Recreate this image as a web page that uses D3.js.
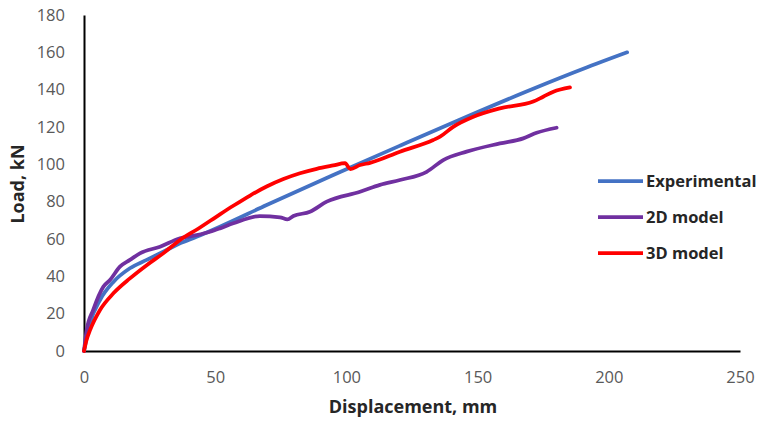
<!DOCTYPE html>
<html>
<head>
<meta charset="utf-8">
<script src="https://cdn.jsdelivr.net/npm/d3@7"></script>
<style>
  html, body { margin: 0; padding: 0; background: #fff; }
  svg { display: block; }
</style>
</head>
<body>
<svg id="chart" width="759" height="421"></svg>
<script>
// Load–displacement curves (displacement in mm, load in kN)
const expDisp = [0, 2.3, 6.1, 11.2, 17.5, 23.9, 30.2, 36.6, 42.9, 51.8, 69.6, 95, 120.4, 145.8, 171.2, 190.3, 207];
const expLoad = [0, 15, 27.3, 37, 44.3, 48.8, 53.2, 57.7, 61.2, 66.6, 78.2, 94.3, 110, 125.5, 140.5, 151.2, 160];

const d2Disp = [0, 1, 3.5, 7.4, 9.9, 13.7, 17.5, 21.3, 29, 36.6, 42.9, 48, 51.8, 56.9, 67, 74.7, 77.5, 79.8, 86.1, 92.5, 105.2, 112.8, 120.4, 130.6, 136.9, 145.8, 158.5, 167.4, 172.5, 180.1];
const d2Load = [0, 11, 22, 34.5, 38, 45.2, 48.8, 52.3, 55.9, 60.4, 62.1, 63.9, 65.7, 68.4, 72.3, 71.6, 70.5, 72.3, 74.6, 80, 85.3, 89, 91.6, 96, 102.3, 106.8, 111.2, 113.9, 116.9, 119.6];

const d3Disp = [0, 1, 2.3, 6.1, 11.2, 17.5, 23.9, 30.2, 36.6, 43.5, 51.8, 56.9, 63.3, 69.6, 76, 82.3, 88.7, 95, 99.5, 101.5, 105.2, 109, 120.4, 133.1, 135.7, 140.7, 148.4, 158.5, 171.2, 175, 178.9, 185.2];
const d3Load = [0, 6, 11.2, 22, 30.9, 38.9, 46, 52.3, 59.5, 65.5, 73.2, 77.8, 83.3, 88.1, 92.1, 95.2, 97.6, 99.4, 100.6, 97.5, 99.6, 100.8, 106.8, 113, 114.8, 120.1, 125.5, 130, 133.6, 136.2, 138.9, 141.2];

const seriesNames  = ["Experimental", "2D model", "3D model"];
const seriesColors = ["#4472C4", "#7030A0", "#FF0000"];

const xTicks = [0, 50, 100, 150, 200, 250];
const yTicks = [0, 20, 40, 60, 80, 100, 120, 140, 160, 180];

const svg = d3.select("#chart");
const plotLeft = 84, plotRight = 740, plotTop = 15, plotBottom = 351;

const x = d3.scaleLinear().domain([0, 250]).range([plotLeft, plotRight]);
const y = d3.scaleLinear().domain([0, 180]).range([plotBottom, plotTop]);

const font = "'Open Sans', 'Liberation Sans', sans-serif";

// Axes
const xAxis = svg.append("g")
  .attr("transform", `translate(0,${plotBottom})`)
  .call(d3.axisBottom(x).tickValues(xTicks).tickSize(0).tickPadding(20));
const yAxis = svg.append("g")
  .attr("transform", `translate(${plotLeft},0)`)
  .call(d3.axisLeft(y).tickValues(yTicks).tickSize(0).tickPadding(19));

[xAxis, yAxis].forEach(g => {
  g.select(".domain").attr("stroke", "#000").attr("stroke-width", 2);
  g.selectAll("text")
    .attr("font-family", font)
    .attr("font-size", 16.5)
    .attr("fill", "#595959");
});

// Axis titles
svg.append("text")
  .attr("x", 413).attr("y", 413)
  .attr("text-anchor", "middle")
  .attr("font-family", font)
  .attr("font-weight", "bold")
  .attr("font-size", 18)
  .attr("fill", "#262626")
  .text("Displacement, mm");

svg.append("text")
  .attr("transform", "translate(24,184) rotate(-90)")
  .attr("text-anchor", "middle")
  .attr("font-family", font)
  .attr("font-weight", "bold")
  .attr("font-size", 18)
  .attr("fill", "#262626")
  .text("Load, kN");

// Curves
const series = [
  { xs: expDisp, ys: expLoad },
  { xs: d2Disp,  ys: d2Load },
  { xs: d3Disp,  ys: d3Load }
];

const line = d3.line()
  .x(d => x(d[0]))
  .y(d => y(d[1]))
  .curve(d3.curveMonotoneX);

series.forEach((s, i) => {
  const pts = s.xs.map((v, j) => [v, s.ys[j]]);
  svg.append("path")
    .datum(pts)
    .attr("d", line)
    .attr("fill", "none")
    .attr("stroke", seriesColors[i])
    .attr("stroke-width", 3.75)
    .attr("stroke-linejoin", "round")
    .attr("stroke-linecap", "round");
});

// Legend
const legendY = [181, 217, 253];
const legend = svg.append("g");
seriesNames.forEach((name, i) => {
  legend.append("line")
    .attr("x1", 598).attr("x2", 643)
    .attr("y1", legendY[i]).attr("y2", legendY[i])
    .attr("stroke", seriesColors[i])
    .attr("stroke-width", 3.75);
  legend.append("text")
    .attr("x", 646).attr("y", legendY[i])
    .attr("dy", "0.35em")
    .attr("font-family", font)
    .attr("font-weight", "bold")
    .attr("font-size", 16.5)
    .attr("fill", "#262626")
    .text(name);
});
</script>
</body>
</html>
